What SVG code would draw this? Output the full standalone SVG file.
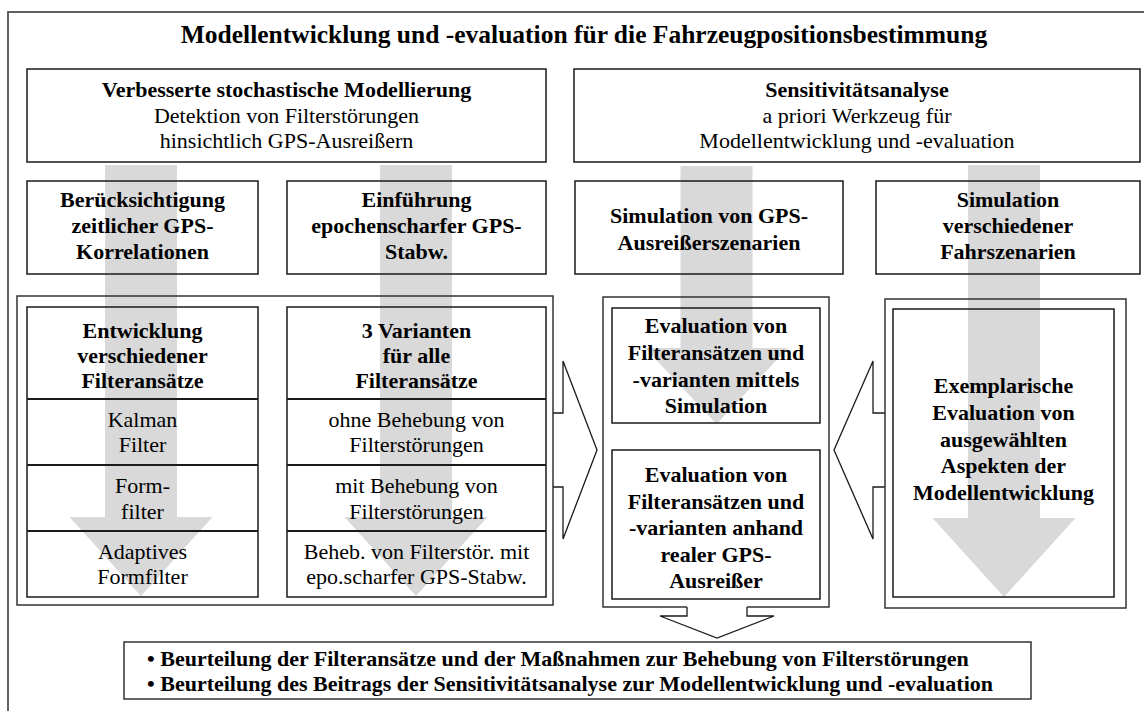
<svg xmlns="http://www.w3.org/2000/svg" width="1144" height="711" viewBox="0 0 1144 711">
<style>
.frame{fill:none;stroke:#606060;stroke-width:2}
.box{fill:none;stroke:#1a1a1a;stroke-width:1.5}
.cont{fill:none;stroke:#333;stroke-width:1.5}
.sep{stroke:#1a1a1a;stroke-width:2}
.garrow{fill:#d9d9d9}
.barrow{fill:#fff;stroke:#1a1a1a;stroke-width:1.3}
text{font-family:"Liberation Serif","Times New Roman",serif;fill:#000;text-anchor:middle;font-size:22px}
.b{font-weight:bold}
.title{font-weight:bold;font-size:25.5px}
.l{text-anchor:start}
</style>
<rect class="frame" x="8" y="12" width="1150" height="720"/>
<text class="title" x="584" y="43">Modellentwicklung und -evaluation für die Fahrzeugpositionsbestimmung</text>

<g id="connectors">
  <path class="garrow" d="M105,165 H177 V517 H212.5 L141,596 L69.5,517 H105 Z"/>
  <path class="garrow" d="M380,165 H452 V517 H487.5 L416,596 L344.5,517 H380 Z"/>
  <path class="garrow" d="M680.5,166 H752.5 V348 H788 L716.5,424 L645,348 H680.5 Z"/>
  <path class="garrow" d="M968,165 H1040 V518 H1075.5 L1004,597 L932.5,518 H968 Z"/>
  <path class="barrow" d="M553,413 H563 V361 L597,450 L563,539 V487 H553"/>
  <path class="barrow" d="M885,413 H873 V361 L834,450 L873,539 V487 H885"/>
  <path class="barrow" d="M687,607 V616 H660 L717,638 L774,616 H747 V607"/>
</g>

<g id="stoch-model">
  <rect class="box" x="27" y="69" width="519" height="93"/>
  <text class="b" x="286.5" y="97">Verbesserte stochastische Modellierung</text>
  <text x="286.5" y="122.5">Detektion von Filterstörungen</text>
  <text x="286.5" y="148">hinsichtlich GPS-Ausreißern</text>
</g>
<g id="sensitivity">
  <rect class="box" x="574" y="69" width="566" height="93"/>
  <text class="b" x="857" y="97">Sensitivitätsanalyse</text>
  <text x="857" y="122.5">a priori Werkzeug für</text>
  <text x="857" y="148">Modellentwicklung und -evaluation</text>
</g>
<g id="correlations">
  <rect class="box" x="27" y="181" width="231" height="93"/>
  <text class="b" x="142.5" y="207">Berücksichtigung</text>
  <text class="b" x="142.5" y="233">zeitlicher GPS-</text>
  <text class="b" x="142.5" y="259">Korrelationen</text>
</g>
<g id="epoch-std">
  <rect class="box" x="287" y="181" width="259" height="93"/>
  <text class="b" x="416.5" y="207">Einführung</text>
  <text class="b" x="416.5" y="233">epochenscharfer GPS-</text>
  <text class="b" x="416.5" y="259">Stabw.</text>
</g>
<g id="sim-outliers">
  <rect class="box" x="575" y="181" width="268" height="93"/>
  <text class="b" x="709" y="223">Simulation von GPS-</text>
  <text class="b" x="709" y="250">Ausreißerszenarien</text>
</g>
<g id="sim-driving">
  <rect class="box" x="876" y="181" width="264" height="93"/>
  <text class="b" x="1008" y="207">Simulation</text>
  <text class="b" x="1008" y="233">verschiedener</text>
  <text class="b" x="1008" y="259">Fahrszenarien</text>
</g>

<g id="filter-development">
  <rect class="cont" x="17" y="296" width="536" height="309"/>
  <g id="filter-approaches">
    <rect class="box" x="27" y="307" width="231" height="290"/>
    <line class="sep" x1="27" y1="399" x2="258" y2="399"/>
    <line class="sep" x1="27" y1="465" x2="258" y2="465"/>
    <line class="sep" x1="27" y1="531" x2="258" y2="531"/>
    <text class="b" x="142.5" y="338">Entwicklung</text>
    <text class="b" x="142.5" y="363">verschiedener</text>
    <text class="b" x="142.5" y="388">Filteransätze</text>
    <text x="142.5" y="427">Kalman</text>
    <text x="142.5" y="452">Filter</text>
    <text x="142.5" y="493">Form-</text>
    <text x="142.5" y="519">filter</text>
    <text x="142.5" y="559">Adaptives</text>
    <text x="142.5" y="584">Formfilter</text>
  </g>
  <g id="variants">
    <rect class="box" x="287" y="307" width="259" height="290"/>
    <line class="sep" x1="287" y1="399" x2="546" y2="399"/>
    <line class="sep" x1="287" y1="465" x2="546" y2="465"/>
    <line class="sep" x1="287" y1="531" x2="546" y2="531"/>
    <text class="b" x="416.5" y="338">3 Varianten</text>
    <text class="b" x="416.5" y="363">für alle</text>
    <text class="b" x="416.5" y="388">Filteransätze</text>
    <text x="416.5" y="427">ohne Behebung von</text>
    <text x="416.5" y="452">Filterstörungen</text>
    <text x="416.5" y="493">mit Behebung von</text>
    <text x="416.5" y="519">Filterstörungen</text>
    <text x="416.5" y="559">Beheb. von Filterstör. mit</text>
    <text x="416.5" y="584">epo.scharfer GPS-Stabw.</text>
  </g>
</g>

<g id="evaluation">
  <path class="cont" d="M687,607 H603 V297 H829 V607 H747"/>
  <g id="eval-simulation">
    <rect class="box" x="612" y="308" width="208" height="115"/>
    <text class="b" x="716" y="333">Evaluation von</text>
    <text class="b" x="716" y="360">Filteransätzen und</text>
    <text class="b" x="716" y="387">-varianten mittels</text>
    <text class="b" x="716" y="413">Simulation</text>
  </g>
  <g id="eval-real">
    <rect class="box" x="612" y="450" width="208" height="149"/>
    <text class="b" x="716" y="482">Evaluation von</text>
    <text class="b" x="716" y="508.5">Filteransätzen und</text>
    <text class="b" x="716" y="535">-varianten anhand</text>
    <text class="b" x="716" y="561.5">realer GPS-</text>
    <text class="b" x="716" y="588">Ausreißer</text>
  </g>
</g>

<g id="exemplary">
  <rect class="cont" x="885" y="299" width="241" height="309"/>
  <rect class="box" x="893" y="309" width="221" height="288"/>
  <text class="b" x="1003.5" y="393">Exemplarische</text>
  <text class="b" x="1003.5" y="420">Evaluation von</text>
  <text class="b" x="1003.5" y="447">ausgewählten</text>
  <text class="b" x="1003.5" y="473">Aspekten der</text>
  <text class="b" x="1003.5" y="500">Modellentwicklung</text>
</g>

<g id="assessment">
  <rect class="cont" x="124" y="642" width="907" height="57"/>
  <text class="b l" x="147" y="666">• Beurteilung der Filteransätze und der Maßnahmen zur Behebung von Filterstörungen</text>
  <text class="b l" x="147" y="691">• Beurteilung des Beitrags der Sensitivitätsanalyse zur Modellentwicklung und -evaluation</text>
</g>
</svg>
